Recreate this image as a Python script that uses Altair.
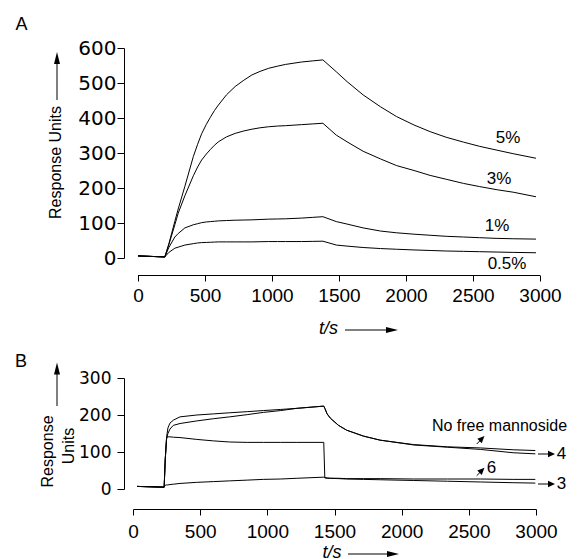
import altair as alt
import pandas as pd

# ---------------- Panel A data (Response Units vs t/s) ----------------
tA = [0, 100, 200, 230, 275, 300, 350, 413, 445, 475, 510, 540, 570, 600, 660,
      725, 790, 850, 910, 975, 1040, 1100, 1220, 1300, 1380,
      1480, 1560, 1680, 1810, 1930, 2060, 2180, 2300, 2430, 2550, 2680, 2800, 2970]
a5 = [6, 4.5, 3, 40, 105, 140, 205, 290, 325, 355, 382, 402, 421, 437, 466,
      490, 508, 523, 533, 542, 548, 553, 560, 563, 566,
      532, 504, 466, 432, 404, 380, 361, 345, 331, 319, 308, 298, 285]
a3 = [6, 4.5, 3, 38, 95, 128, 178, 235, 260, 280, 297, 310, 322, 332, 346,
      356, 363, 368, 372, 375, 377, 378, 381, 383, 385,
      351, 332, 305, 283, 264, 250, 236, 225, 213, 204, 195, 188, 175]
a1 = [6, 4.5, 3, 30, 60, 70, 86, 95, 98, 101, 103, 104, 105, 106, 107,
      108, 108.5, 109, 110, 111, 111.5, 112, 114, 116, 118,
      104, 97, 86, 77, 72, 68, 65, 62, 60, 58, 56, 55, 54]
a05 = [6, 4.5, 3, 16, 28, 31, 37, 41, 43, 44, 44.5, 45, 45.5, 46, 46,
       46, 46, 46, 46.5, 47, 47, 47, 47, 47.5, 48,
       37, 34, 30, 27, 25, 23, 21.5, 20, 19, 18, 17, 16, 15]
namesA = ["5%", "3%", "1%", "0.5%"]
labA_t = [2761, 2694, 2679, 2754]
labA_v = [343, 226, 91, -17]

# ---------------- Panel B data ----------------
tB = [30, 130, 232, 240, 250, 260, 275, 300, 350, 475, 600, 720, 850, 970, 1100,
      1220, 1420, 1428, 1445, 1470, 1530, 1590, 1715, 1840, 2090, 2340, 2585, 2830, 2995]
bNFM = [7, 6, 5, 80, 140, 165, 178, 186, 195, 200, 203, 206, 209, 212, 215,
        218, 224, 218, 203, 191, 172, 159, 143, 132, 120, 114, 111, 106, 104]
b4 = [7, 6, 5, 80, 135, 150, 162, 172, 177, 184, 190, 195, 201, 207, 212,
      218, 224, 218, 203, 191, 172, 159, 143, 132, 119, 113, 107, 98, 95]
b6 = [7, 6, 5, 80, 138, 141, 141, 140, 139, 134, 130, 127, 126, 126, 126,
      126, 126, 30, 29, 29, 29, 28, 28, 28, 27, 27, 27, 26, 26]
b3 = [7, 6, 5, 10, 11, 11, 12, 13, 15, 18, 20, 22, 24, 26, 27,
      29, 32, 31, 30, 29, 28, 27, 26, 25, 23, 21, 19, 17, 16]
namesB = ["No free mannoside", "4", "6", "3"]

xticks = [0, 500, 1000, 1500, 2000, 2500, 3000]
yticksA = [0, 100, 200, 300, 400, 500, 600]
yticksB = [0, 100, 200, 300]

FONT = "Liberation Sans"
YFONT = "DejaVu Sans"
ARROW = "M0,-1L0.5,1L-0.5,1Z"
ARROW_FAT = "M0,-1L0.9,1L-0.9,1Z"
one = pd.DataFrame({"k": [0]})


def ptext(text, x, y, size, angle=0, style="normal"):
    return alt.Chart(one).mark_text(
        text=text, font=FONT, fontSize=size, angle=angle, fontStyle=style,
        align="center", baseline="middle", color="black"
    ).encode(x=alt.value(x), y=alt.value(y))


def pline(x1, y1, x2, y2):
    return alt.Chart(one).mark_rule(color="black", strokeWidth=1).encode(
        x=alt.value(x1), y=alt.value(y1), x2=alt.value(x2), y2=alt.value(y2))


def phead(x, y, angle, size, shape=ARROW):
    return alt.Chart(one).mark_point(
        shape=shape, filled=True, size=size, angle=angle, color="black",
        opacity=1, strokeWidth=0
    ).encode(x=alt.value(x), y=alt.value(y))


def xaxis(offset, pad, domain=True):
    return alt.Axis(values=xticks, format="d", title=None, grid=False,
                    domain=domain, domainColor="black", domainWidth=1,
                    tickColor="black", tickSize=6, tickWidth=1,
                    labelFont=FONT, labelFontSize=19, labelColor="black",
                    labelPadding=pad, offset=offset, labelFlush=False,
                    labelOverlap=False)


def yaxis(values, offset, pad, size):
    return alt.Axis(values=values, format="d", title=None, grid=False,
                    domainColor="black", domainWidth=1,
                    tickColor="black", tickSize=7, tickWidth=1,
                    labelFont=YFONT, labelFontSize=size, labelColor="black",
                    labelPadding=pad, offset=offset, labelFlush=False,
                    labelOverlap=False)


# ---------------- Panel A ----------------
WA, HA = 407, 210
xA = alt.Scale(domain=[-37.3, 3000], nice=False, zero=False)
yA = alt.Scale(domain=[0, 600], nice=False, zero=False)
axA_x = xaxis(17, 5, domain=False)
axA_y = yaxis(yticksA, 9, 1, 20)
dfA = pd.DataFrame({
    "t": tA * 4,
    "v": a5 + a3 + a1 + a05,
    "s": sum([[n] * len(tA) for n in namesA], []),
})
linesA = alt.Chart(dfA).mark_line(color="black", strokeWidth=1).encode(
    x=alt.X("t:Q", scale=xA, axis=axA_x),
    y=alt.Y("v:Q", scale=yA, axis=axA_y),
    detail="s:N",
)
labA = alt.Chart(pd.DataFrame({"t": labA_t, "v": labA_v, "txt": namesA})).mark_text(
    font=FONT, fontSize=17, color="black", align="center", baseline="middle"
).encode(x=alt.X("t:Q", scale=xA, axis=axA_x),
         y=alt.Y("v:Q", scale=yA, axis=axA_y), text="txt:N")
domA = alt.Chart(pd.DataFrame({"t": [0], "t2": [3000]})).mark_rule(
    color="black", strokeWidth=1
).encode(x=alt.X("t:Q", scale=xA, axis=axA_x), x2="t2:Q", y=alt.value(HA + 17.5))

chartA = alt.layer(
    linesA, labA, domA,
    ptext("A", -111.5, -23, 18),
    ptext("Response Units", -77.5, 114.5, 16, angle=270),
    pline(-76, 52, -76, 12),
    phead(-76, 10, 0, 144),
    ptext("t/s", 195.5, 281, 18, style="italic"),
    pline(212, 282, 257, 282),
    phead(259, 282, 90, 144),
).properties(width=WA, height=HA)

# ---------------- Panel B ----------------
WB, HB = 403, 111
xB = alt.Scale(domain=[0, 3000], nice=False, zero=False)
yB = alt.Scale(domain=[0, 300], nice=False, zero=False)
dfB = pd.DataFrame({
    "t": tB * 4,
    "v": bNFM + b4 + b6 + b3,
    "s": sum([[n] * len(tB) for n in namesB], []),
})
linesB = alt.Chart(dfB).mark_line(color="black", strokeWidth=1).encode(
    x=alt.X("t:Q", scale=xB, axis=xaxis(20, 7)),
    y=alt.Y("v:Q", scale=yB, axis=yaxis(yticksB, 9, 6, 17)),
    detail="s:N",
)

chartB = alt.layer(
    linesB,
    ptext("B", -112, -16.5, 18),
    ptext("Response", -85.5, 73.5, 16, angle=270),
    ptext("Units", -64, 68, 16, angle=270),
    pline(-76, 28, -76, -6),
    phead(-76, -9.5, 0, 144),
    ptext("t/s", 199, 175, 18, style="italic"),
    pline(215, 176, 255, 176),
    phead(260, 176, 90, 144),
    ptext("No free mannoside", 366.5, 48, 16),
    pline(343.7, 66, 348, 61.7),
    phead(349, 60.5, 45, 49, ARROW_FAT),
    ptext("6", 358.5, 89.5, 17),
    pline(343.7, 97.7, 348, 93.4),
    phead(349, 92.2, 45, 49, ARROW_FAT),
    pline(405, 76, 416, 76),
    phead(418.5, 76, 90, 49, ARROW_FAT),
    ptext("4", 428.5, 76, 17),
    pline(405, 106, 416, 106),
    phead(418.5, 106, 90, 49, ARROW_FAT),
    ptext("3", 428.5, 106, 17),
).properties(width=WB, height=HB)

chart = alt.vconcat(chartA, chartB, spacing=120, bounds="flush").properties(
    padding={"left": 6, "top": 8, "right": 0, "bottom": 0}
).configure_view(stroke=None)

chart.save("out.html", embed_options={"renderer": "svg", "actions": False})
